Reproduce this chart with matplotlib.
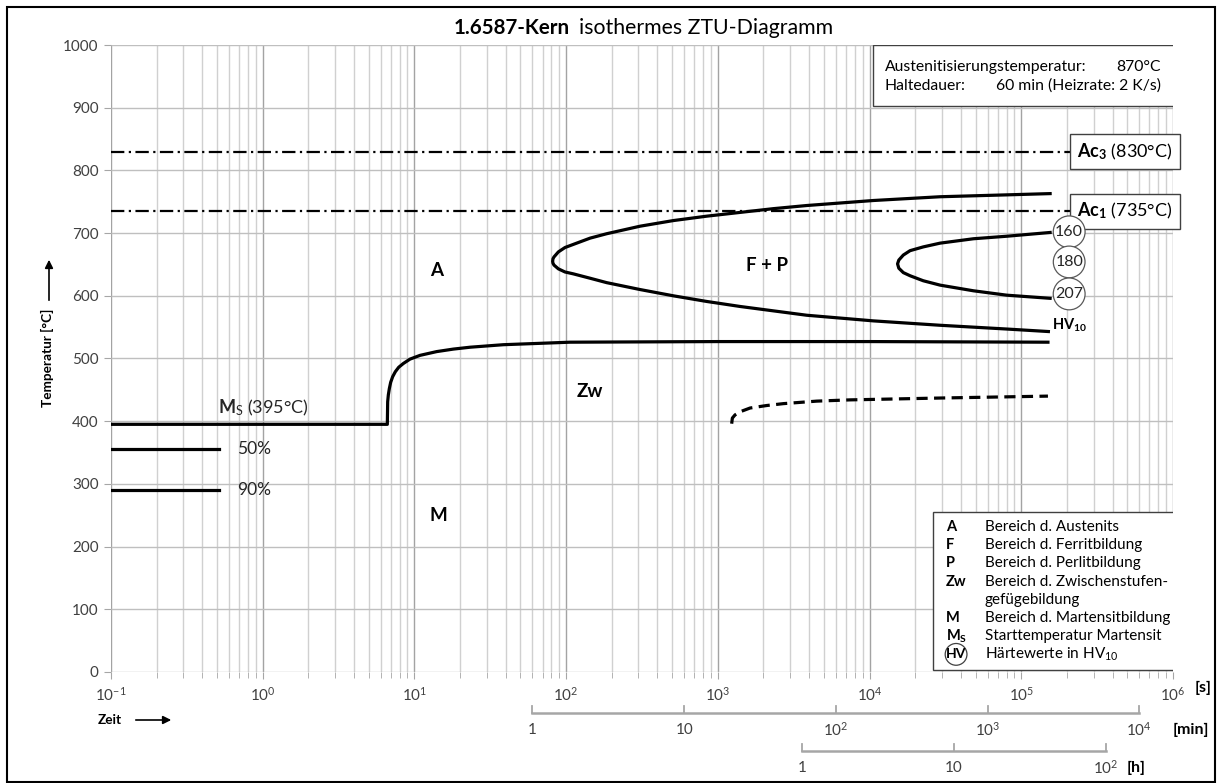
import numpy as np
import matplotlib.pyplot as plt
from matplotlib import transforms
from matplotlib.patches import Rectangle
from matplotlib.ticker import LogLocator, NullFormatter, FixedLocator

plt.rcParams['font.family'] = ['Lato', 'DejaVu Sans']
plt.rcParams['mathtext.fontset'] = 'custom'
plt.rcParams['mathtext.rm'] = 'Lato'
plt.rcParams['mathtext.bf'] = 'Lato:bold'
plt.rcParams['mathtext.it'] = 'Lato:italic'

# Werte (Zeit in s, Temperatur in °C)
AC3 = 830
AC1 = 735
MS = 395
AC_LINE_END = 2.1e5

# Ferrit/Perlit-Beginn: oberer Ast -> Nase -> unterer Ast
fp_start_t = [1.55e5, 8.02e4, 2.92e4, 1.06e4, 3853, 2323, 1401, 844, 509, 307, 185,
              144, 111.6, 98.3, 88.9, 83.2, 81.9, 81.5, 81.9, 83.2, 88.9, 98.3, 111.6,
              144, 185, 307, 509, 844, 1401, 2323, 3853, 1.06e4, 2.92e4, 8.02e4, 1.51e5]
fp_start_T = [763, 761, 758, 752, 744, 739, 733, 727, 720, 711, 699,
              692, 682, 677, 670, 662, 659, 655, 652, 649, 643, 638, 635,
              628, 621, 610, 600, 591, 583, 576, 569, 560, 553, 547, 543]

# Ferrit/Perlit-Ende
fp_end_t = [1.55e5, 8.02e4, 4.84e4, 2.92e4, 2.26e4, 1.85e4, 1.67e4, 1.56e4, 1.53e4,
            1.56e4, 1.67e4, 1.85e4, 2.26e4, 2.92e4, 4.84e4, 8.02e4, 1.55e5]
fp_end_T = [701, 695, 691, 684, 678, 672, 665, 657, 651,
            644, 637, 632, 624, 617, 608, 601, 596]

# Ms-Linie und Zwischenstufen-Beginn
zw_start_t = [0.1, 6.63, 6.665, 6.733, 6.836, 6.976, 7.19, 7.49, 7.88, 8.45, 9.35,
              10.89, 14.02, 18.06, 23.3, 38.6, 64.0, 106, 1e3, 1e4, 1.5e5]
zw_start_T = [395, 395, 431, 442, 452, 462, 471, 479, 486, 492, 499,
              505, 511, 515, 518, 522, 524, 526, 527, 527, 526]

# Zwischenstufen-Ende (gestrichelt)
zw_end_t = [1234, 1247, 1298, 1401, 1631, 2100, 2704, 4484, 7437, 3e4, 1.5e5]
zw_end_T = [396, 405, 410, 415, 421, 425, 428, 432, 434, 437, 440]

# Martensit 50 % / 90 %
mart_pct = ['50%', '90%']
mart_T = [356, 291]
mart_t_end = 0.515

# Härtewerte
hv_values = ['160', '180', '207']
hv_T = [702, 654, 603]
hv_t = 2.07e5

# Bereiche
region_labels = ['A', 'F + P', 'Zw', 'M']
region_t = [14.1, 2110, 144, 14.3]
region_T = [641, 649, 447, 249]

legend_sym = ['A', 'F', 'P', 'Zw', '', 'M', r'$\mathbf{M}_\mathbf{S}$', 'HV']
legend_txt = ['Bereich d. Austenits', 'Bereich d. Ferritbildung',
              'Bereich d. Perlitbildung', 'Bereich d. Zwischenstufen-',
              'gefügebildung', 'Bereich d. Martensitbildung',
              'Starttemperatur Martensit', 'Härtewerte in HV$_{10}$']

sec_ticks = [1e-1, 1e0, 1e1, 1e2, 1e3, 1e4, 1e5, 1e6]
min_ticks = [1, 10, 100, 1000, 10000]
min_labels = ['1', '10', r'$10^2$', r'$10^3$', r'$10^4$']
h_ticks = [1, 10, 100]
h_labels = ['1', '10', r'$10^2$']

GRID_MAJ = '#a3a3a3'
GRID_MIN = '#d0d0d0'
TXT = '#404040'

fig = plt.figure(figsize=(12.17, 7.83), dpi=100)
ax = fig.add_axes([0.0912, 0.1418, 0.8726, 0.8007])
ax.set_xscale('log')
ax.set_xlim(0.1, 1e6)
ax.set_ylim(0, 1000)
ax.yaxis.set_major_locator(FixedLocator(np.arange(0, 1001, 100)))
ax.set_xticks(sec_ticks)
ax.xaxis.set_minor_locator(LogLocator(base=10, subs=np.arange(2, 10), numticks=100))
ax.xaxis.set_minor_formatter(NullFormatter())
ax.grid(which='major', axis='x', color=GRID_MAJ, lw=1.0)
ax.grid(which='minor', axis='x', color=GRID_MIN, lw=1.0)
ax.grid(which='major', axis='y', color='#bfbfbf', lw=1.0)
for s in ax.spines.values():
    s.set_visible(False)
ax.tick_params(axis='both', which='both', colors='#a6a6a6', labelcolor=TXT,
               labelsize=11, direction='out')
ax.tick_params(axis='x', which='major', length=5, pad=5)
ax.tick_params(axis='x', which='minor', length=4)
ax.tick_params(axis='y', length=5, pad=4)
ax.set_axisbelow(True)

# Ac-Linien
for T in (AC3, AC1):
    ax.plot([0.1, AC_LINE_END], [T, T], color='black', lw=1.6,
            linestyle=(0, (6, 2, 1, 2)))
for T, idx in ((AC3, '3'), (AC1, '1')):
    ax.annotate(r'$\mathbf{Ac}_\mathbf{' + idx + '}$' + ' (%d°C)' % T,
                xy=(AC_LINE_END, T), xytext=(5.2, 0), textcoords='offset points',
                ha='left', va='center', fontsize=13, zorder=6,
                bbox=dict(boxstyle='square,pad=0.4', fc='white', ec=TXT, lw=1.0))

lw_c = 2.3
ax.plot(fp_start_t, fp_start_T, color='black', lw=lw_c, solid_joinstyle='round')
ax.plot(fp_end_t, fp_end_T, color='black', lw=lw_c, solid_joinstyle='round')
ax.plot(zw_start_t, zw_start_T, color='black', lw=lw_c, solid_joinstyle='round')
ax.plot(zw_end_t, zw_end_T, color='black', lw=lw_c, linestyle=(0, (3.5, 2)))

for lab, T in zip(mart_pct, mart_T):
    ax.plot([0.1, mart_t_end], [T, T], color='black', lw=lw_c)
    ax.text(0.68, T, lab, fontsize=12.5, ha='left', va='center', color='#262626')

ax.text(0.507, 421, r'$\mathbf{M}_\mathrm{S}$ (395°C)', fontsize=13,
        ha='left', va='center', color='#262626')

for lab, t, T in zip(region_labels, region_t, region_T):
    ax.text(t, T, lab, fontsize=13.5, fontweight='bold', ha='center', va='center')

for v, T in zip(hv_values, hv_T):
    ax.text(hv_t, T, v, fontsize=11.5, ha='center', va='center', color='#262626',
            zorder=7, bbox=dict(boxstyle='circle,pad=0.12', fc='white', ec='#595959', lw=0.9))
ax.text(hv_t, 553, r'$\mathbf{HV}_\mathbf{10}$', fontsize=10.5, ha='center', va='center')

# Infobox oben rechts
ax.add_patch(Rectangle((0.7175, 0.9027), 0.2853, 0.0973, transform=ax.transAxes,
                       fc='white', ec=TXT, lw=1.0, zorder=5))
ax.text(0.7288, 0.9649, 'Austenitisierungstemperatur:', transform=ax.transAxes,
        fontsize=11.3, va='center', zorder=6)
ax.text(0.9887, 0.9649, '870°C', transform=ax.transAxes, fontsize=11.3,
        va='center', ha='right', zorder=6)
ax.text(0.7288, 0.9346, 'Haltedauer:', transform=ax.transAxes, fontsize=11.3,
        va='center', zorder=6)
ax.text(0.9887, 0.9346, '60 min (Heizrate: 2 K/s)', transform=ax.transAxes,
        fontsize=11.3, va='center', ha='right', zorder=6)

# Legende unten rechts
ax.add_patch(Rectangle((0.774, 0.0032), 0.2288, 0.252, transform=ax.transAxes,
                       fc='white', ec=TXT, lw=1.0, zorder=5))
for i, (sym, txt) in enumerate(zip(legend_sym, legend_txt)):
    y = 1 - (527 + 18.2 * i - 45) / 627
    if sym == 'HV':
        ax.text(0.7862, y, sym, transform=ax.transAxes, fontsize=10, fontweight='bold',
                va='center', zorder=6,
                bbox=dict(boxstyle='circle,pad=0.05', fc='white', ec='#404040', lw=0.9))
    else:
        ax.text(0.7862, y, sym, transform=ax.transAxes, fontsize=10.5, fontweight='bold',
                va='center', zorder=6)
    ax.text(0.8230, y, txt, transform=ax.transAxes, fontsize=11, va='center', zorder=6)

# Einheiten und Zeitskalen in min und h
fig.text(1195 / 1217, 1 - 688 / 783, '[s]', fontsize=11.5, fontweight='bold', va='center')
trans = transforms.blended_transform_factory(ax.transData, fig.transFigure)
for ticks, labels, factor, y_line, unit, unit_dx in (
        (min_ticks, min_labels, 60, 1 - 713 / 783, '[min]', 24),
        (h_ticks, h_labels, 3600, 1 - 751 / 783, '[h]', 15)):
    secs = [t * factor for t in ticks]
    ax.plot([secs[0], secs[-1]], [y_line, y_line], transform=trans, color='#a6a6a6',
            lw=1.8, clip_on=False)
    for s, lab in zip(secs, labels):
        ax.plot([s, s], [y_line, y_line + 7 / 783], transform=trans, color='#a6a6a6',
                lw=1.3, clip_on=False)
        ax.text(s, y_line - 17 / 783, lab, transform=trans, fontsize=11, ha='center',
                va='center', color=TXT)
    ax.annotate(unit, xy=(secs[-1], y_line - 17 / 783), xycoords=trans,
                xytext=(unit_dx, 0), textcoords='offset points', fontsize=11.5,
                fontweight='bold', ha='left', va='center')

# Achsentitel
fig.text(47 / 1217, 1 - 358 / 783, 'Temperatur [°C]', rotation=90, fontsize=9.8,
         fontweight='bold', ha='center', va='center')
fig.add_artist(plt.Line2D([49 / 1217, 49 / 1217], [1 - 300 / 783, 1 - 266 / 783],
                          color='black', lw=1.2))
ax.annotate('', xy=(49 / 1217, 1 - 257 / 783), xytext=(49 / 1217, 1 - 270 / 783),
            xycoords='figure fraction', textcoords='figure fraction',
            arrowprops=dict(arrowstyle='-|>', color='black', lw=1.2, mutation_scale=12))
fig.text(98 / 1217, 1 - 720 / 783, 'Zeit', fontsize=9.8, fontweight='bold', va='center')
ax.annotate('', xy=(174 / 1217, 1 - 720 / 783), xytext=(133 / 1217, 1 - 720 / 783),
            xycoords='figure fraction', textcoords='figure fraction',
            arrowprops=dict(arrowstyle='-|>', color='black', lw=1.2, mutation_scale=12))

# Titel
fig.text(570 / 1217, 1 - 28 / 783, '1.6587-Kern', fontsize=14.8, fontweight='bold',
         ha='right', va='center')
fig.text(579 / 1217, 1 - 28 / 783, 'isothermes ZTU-Diagramm', fontsize=15.3,
         ha='left', va='center')

fig.add_artist(Rectangle((7 / 1217, 1 / 783), 1208 / 1217, 775 / 783,
                         transform=fig.transFigure, fill=False, ec='black', lw=1.5))

fig.savefig('out.png', dpi=100)
